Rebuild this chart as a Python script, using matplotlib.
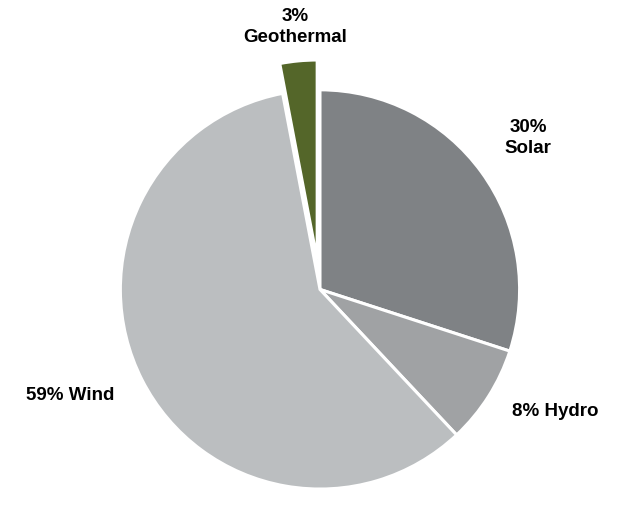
import numpy as np
import matplotlib
matplotlib.use("Agg")
import matplotlib.pyplot as plt

categories = ["Solar", "Hydro", "Wind", "Geothermal"]
values = [30, 8, 59, 3]
labels = ["30%\nSolar", "8% Hydro", "59% Wind", "3%\nGeothermal"]

colors = ["#7f8285", "#a0a2a4", "#bbbec0", "#546629"]
explode = [0, 0, 0, 0.15]
label_dist = [1.29, 1.33, 1.36, 1.17]
label_rot = [0, 5, -4, 0]

plt.rcParams['font.family'] = ['Liberation Sans', 'DejaVu Sans']

fig = plt.figure(figsize=(6.30, 5.13), dpi=100)
ax = fig.add_axes([0, 0, 1, 1])
wedges, _ = ax.pie(values, colors=colors, startangle=90, counterclock=False,
                   explode=explode, radius=1.0,
                   wedgeprops=dict(edgecolor="white", linewidth=2.2))

for w, lab, d, rot, ex in zip(wedges, labels, label_dist, label_rot, explode):
    ang = np.deg2rad((w.theta1 + w.theta2) / 2 + rot)
    r = d + ex
    ax.text(r * np.cos(ang), r * np.sin(ang), lab, ha="center", va="center",
            fontsize=13.5, fontweight="bold", color="black", linespacing=1.25)

ax.set_xlim(-1.6, 1.55)
ax.set_ylim(-1.12, 1.45)
ax.set_aspect("equal")
ax.axis("off")
fig.savefig("out.png", dpi=100, facecolor="white")
